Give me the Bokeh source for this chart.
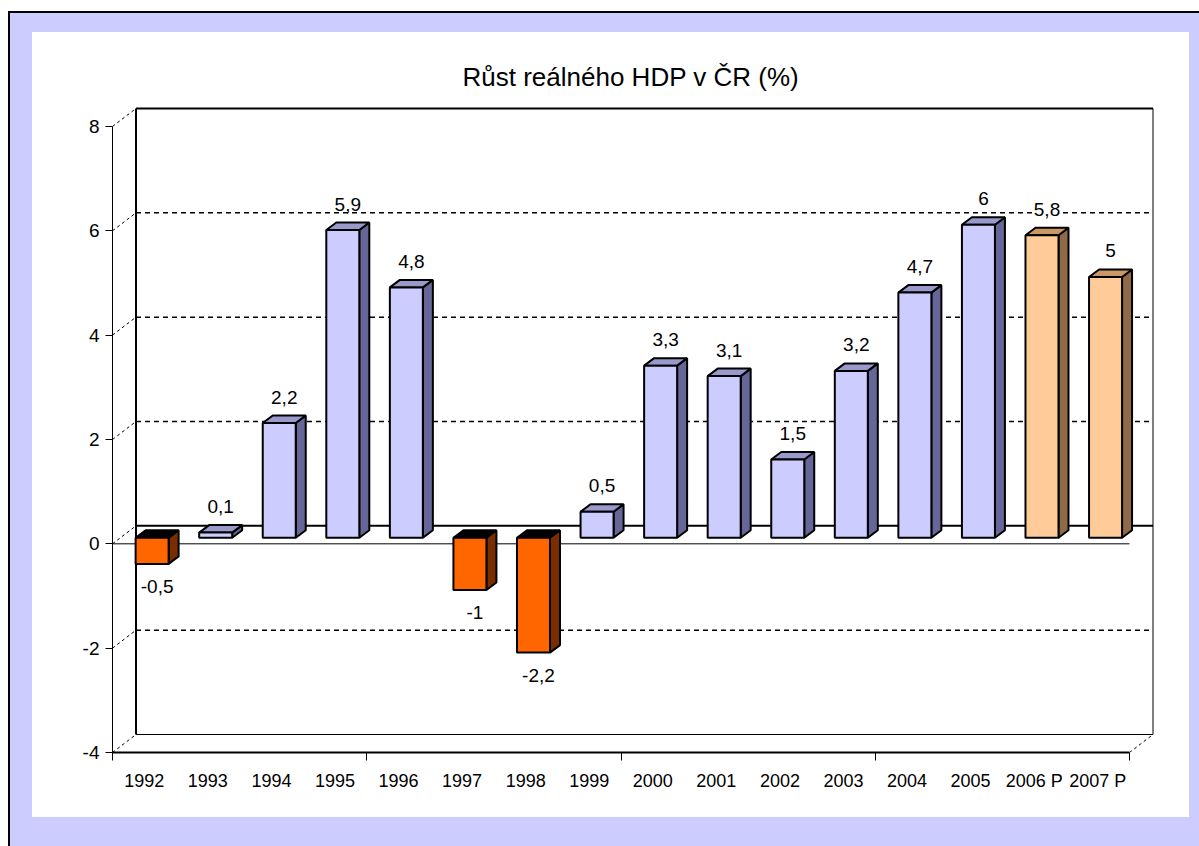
from bokeh.plotting import figure
from bokeh.models import Range1d, FixedTicker
from bokeh.embed import file_html
from bokeh.resources import INLINE
from bokeh.core.properties import value

# ---------------- data ----------------
years = ["1992", "1993", "1994", "1995", "1996", "1997", "1998", "1999",
         "2000", "2001", "2002", "2003", "2004", "2005", "2006 P", "2007 P"]
growth = [-0.5, 0.1, 2.2, 5.9, 4.8, -1.0, -2.2, 0.5,
          3.3, 3.1, 1.5, 3.2, 4.7, 6.0, 5.8, 5.0]
y_ticks = [-4, -2, 0, 2, 4, 6, 8]
chart_title = "Růst reálného HDP v ČR (%)"

# ---------------- layout constants (pixels) ----------------
W, H = 1199, 846
AX_LEFT = 112          # front value axis position
AX_BOTTOM = 752        # front category axis position (from top)
FRAME_TOP = 100
PX_CAT = 63.5625       # pixels per category
PX_UNIT = 52.17        # pixels per 1 %
YMIN, YMAX = -4, 8
N = len(years)

x_end = (W - AX_LEFT) / PX_CAT
y_end = YMIN + (AX_BOTTOM - FRAME_TOP) / PX_UNIT

DX = 23.5 / PX_CAT     # wall depth
DY = 18.0 / PX_UNIT
F1 = 1.0 / 3.0         # bar front position in depth
DXB = 10.0 / PX_CAT    # bar depth
DYB = 7.5 / PX_UNIT
BW = 33.0 / PX_CAT     # bar width

LAV = "#CCCCFF"
FONT = "Liberation Sans"

p = figure(width=W, height=H, output_backend="svg", toolbar_location=None,
           x_range=Range1d(0, x_end), y_range=Range1d(YMIN, y_end),
           min_border_left=AX_LEFT, min_border_right=0,
           min_border_top=FRAME_TOP, min_border_bottom=H - AX_BOTTOM)
p.border_fill_color = None
p.background_fill_color = None
p.outline_line_color = None
p.grid.visible = False

# page background: lavender frame with white inner panel and black edge lines
p.styles = {
    "background-color": LAV,
    "background-image": ("linear-gradient(black, black), linear-gradient(black, black), "
                         "linear-gradient(white, white), linear-gradient(white, white), "
                         "linear-gradient(white, white)"),
    "background-size": "2px 835px, 1191px 2px, 1157px 785px, 1199px 11px, 8px 846px",
    "background-position": "8px 11px, 8px 11px, 32px 32px, 0px 0px, 0px 0px",
    "background-repeat": "no-repeat",
}

# title
p.title.text = chart_title
p.title.align = "left"
p.title.offset = 350
p.title.standoff = 18
p.title.text_font = FONT
p.title.text_font_style = "normal"
p.title.text_font_size = "26px"
p.title.text_color = "black"

# ---------------- walls ----------------
for t in y_ticks:
    if t in (YMIN, YMAX, 0):
        continue
    p.line([DX, N + DX], [t + DY, t + DY], line_color="black",
           line_dash="5 4", line_width=1.5)
p.line([DX, N + DX], [YMAX + DY, YMAX + DY], line_color="black", line_width=2)
p.line([DX, DX], [YMIN + DY, YMAX + DY], line_color="black", line_width=2)
p.line([N + DX, N + DX], [YMIN + DY, YMAX + DY], line_color="black", line_width=1)
p.line([DX, N + DX], [YMIN + DY, YMIN + DY], line_color="black", line_width=1)
p.line([DX, N + DX], [DY, DY], line_color="black", line_width=2)
p.line([0, N], [0, 0], line_color="black", line_width=1)
for t in y_ticks:
    p.line([0, DX], [t, t + DY], line_color="black", line_dash="3 3", line_width=1)
p.line([N, N + DX], [YMIN, YMIN + DY], line_color="black", line_dash="3 3", line_width=1)

# ---------------- 3D bars ----------------
front_c, top_c, side_c = [], [], []
fx_s, fy_s, tx_s, ty_s, sx_s, sy_s = [], [], [], [], [], []
lab_x, lab_y, lab_t = [], [], []
for i, (yr, v) in enumerate(zip(years, growth)):
    cx = i + 0.5 + F1 * DX
    xl, xr = cx - BW / 2, cx + BW / 2
    base = F1 * DY
    top = v + F1 * DY
    lo, hi = min(base, top), max(base, top)
    if v < 0:
        cols = ("#FF6600", "#000000", "#7A2E00")
    elif yr.endswith("P"):
        cols = ("#FFCC99", "#C99866", "#8F6A48")
    else:
        cols = ("#CCCCFF", "#9999CC", "#666699")
    front_c.append(cols[0]); top_c.append(cols[1]); side_c.append(cols[2])
    fx_s.append([xl, xr, xr, xl]); fy_s.append([lo, lo, hi, hi])
    tx_s.append([xl, xl + DXB, xr + DXB, xr]); ty_s.append([hi, hi + DYB, hi + DYB, hi])
    sx_s.append([xr, xr + DXB, xr + DXB, xr]); sy_s.append([lo, lo + DYB, hi + DYB, hi])
    lab_x.append(cx + DXB / 2)
    if v >= 0:
        lab_y.append(hi + DYB + 18.5 / PX_UNIT)
    else:
        lab_y.append(lo - 23.0 / PX_UNIT)
    lab_t.append(f"{v:g}".replace(".", ","))

p.patches(sx_s, sy_s, fill_color=side_c, line_color="black", line_width=2)
p.patches(tx_s, ty_s, fill_color=top_c, line_color="black", line_width=2)
p.patches(fx_s, fy_s, fill_color=front_c, line_color="black", line_width=2)

p.text(x=lab_x, y=lab_y, text=lab_t, text_align="center", text_baseline="middle",
       text_font=value(FONT), text_font_size="19px", text_color="black",
       background_fill_color="white")

# ---------------- axes ----------------
ya = p.yaxis[0]
ya.ticker = FixedTicker(ticks=y_ticks, minor_ticks=[])
ya.bounds = (YMIN, YMAX)
ya.major_label_overrides = {t: str(t) for t in y_ticks}
ya.axis_line_color = "black"
ya.axis_line_width = 1
ya.major_tick_in = 0
ya.major_tick_out = 7
ya.major_tick_line_color = "black"
ya.minor_tick_line_color = None
ya.major_label_standoff = 6
ya.major_label_text_font = FONT
ya.major_label_text_font_style = "normal"
ya.major_label_text_font_size = "19px"
ya.major_label_text_color = "black"

centers = [i + 0.5 for i in range(N)]
xa = p.xaxis[0]
xa.ticker = FixedTicker(ticks=centers, minor_ticks=[0, 4, 8, 12, 16])
xa.bounds = (0, N)
xa.major_label_overrides = {c: yr for c, yr in zip(centers, years)}
xa.axis_line_color = "black"
xa.axis_line_width = 2
xa.major_tick_in = 0
xa.major_tick_out = 0
xa.minor_tick_in = 0
xa.minor_tick_out = 8
xa.minor_tick_line_color = "black"
xa.minor_tick_line_width = 1
xa.major_label_standoff = 10
xa.major_label_text_font = FONT
xa.major_label_text_font_style = "normal"
xa.major_label_text_font_size = "18px"
xa.major_label_text_color = "black"

open("out.html", "w").write(file_html(p, INLINE))
